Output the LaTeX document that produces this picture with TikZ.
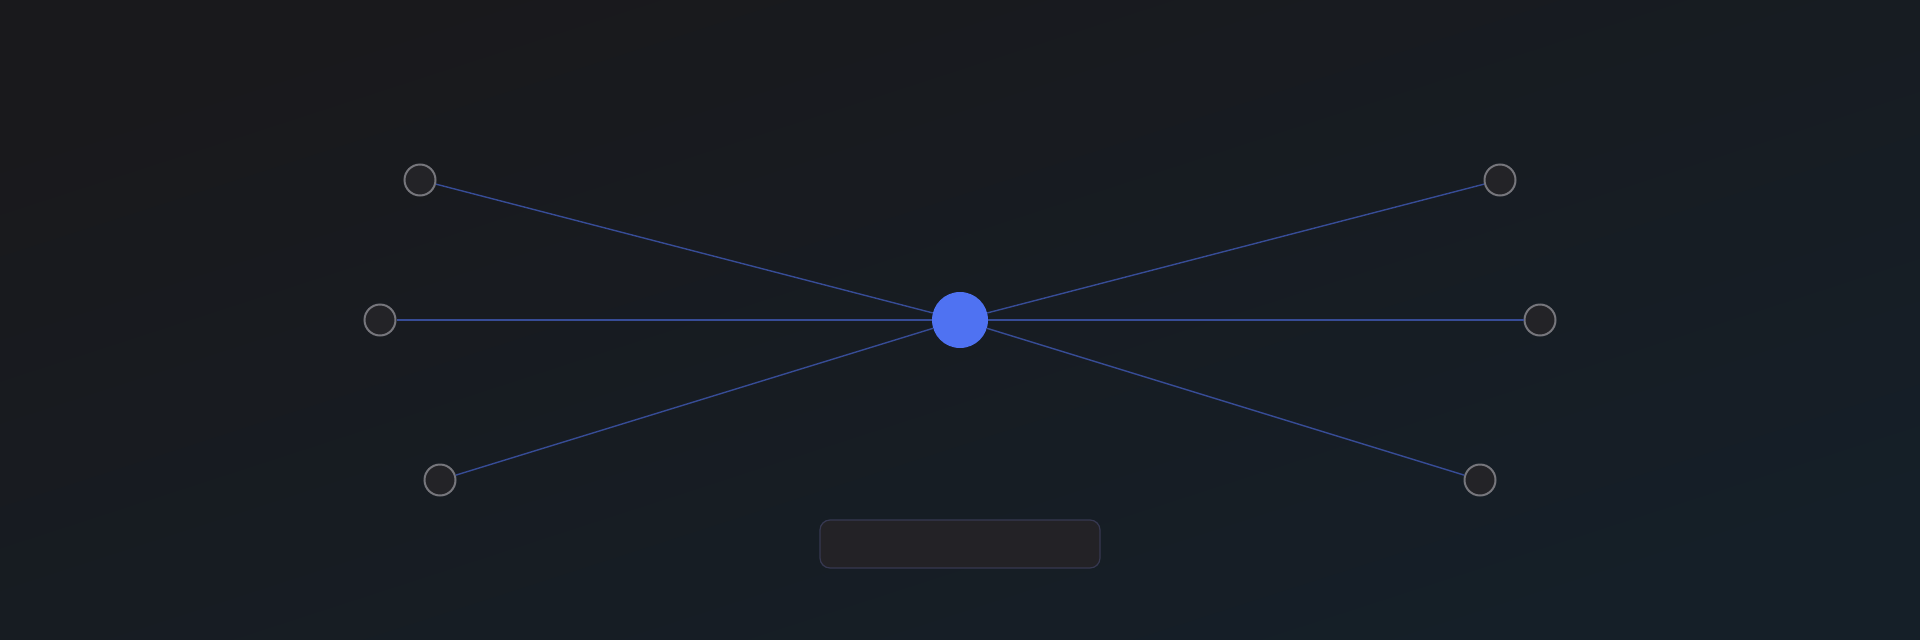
\documentclass[tikz,border=0pt]{standalone}
\usepackage{tikz}

\definecolor{bgA}{HTML}{19191C}
\definecolor{bgB}{HTML}{151F28}
\definecolor{hubblue}{HTML}{4F72F2}
\definecolor{spoke}{HTML}{374C96}
\definecolor{satfill}{HTML}{232327}
\definecolor{satline}{HTML}{76767C}
\definecolor{barfill}{HTML}{232226}
\definecolor{barline}{HTML}{363851}

\tikzset{
    hub/.style={circle,fill=hubblue,minimum size=56pt,inner sep=0pt},
    sat/.style={circle,draw=satline,fill=satfill,line width=2pt,minimum size=31pt,inner sep=0pt},
    spokeline/.style={draw=spoke,line width=1.4pt}
}

\begin{document}
\begin{tikzpicture}[x=1pt,y=-1pt]
        % Background
        \shade[top color=bgA,bottom color=bgB,shading angle=18] (0,0) rectangle (1920,640);
        \useasboundingbox (0,0) rectangle (1920,640);

        \node (Hub)     at (960,320)  [hub] {};

        \node (Ltop)    at (420,180)  [sat] {};
        \node (Lmid)    at (380,320)  [sat] {};
        \node (Lbot)    at (440,480)  [sat] {};
        \node (Rtop)    at (1500,180) [sat] {};
        \node (Rmid)    at (1540,320) [sat] {};
        \node (Rbot)    at (1480,480) [sat] {};

        % Spokes
        \foreach \x in {Ltop,Lmid,Lbot,Rtop,Rmid,Rbot}
            \draw[spokeline] (Hub) -- (\x);

        % Empty bar below the hub
        \node (Bar)     at (960,544) [draw=barline,fill=barfill,line width=1.2pt,rounded corners=10pt,
                                      minimum width=280pt,minimum height=48pt] {};
\end{tikzpicture}
\end{document}
